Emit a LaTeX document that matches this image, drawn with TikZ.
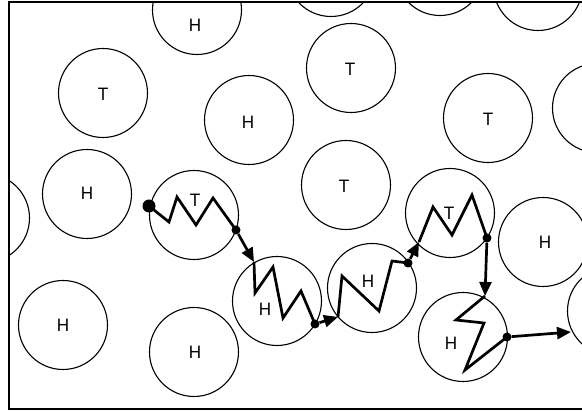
\documentclass[tikz,border=0pt]{standalone}
\usepackage{fontspec}
\setmainfont{TeX Gyre Heros}
\usetikzlibrary{arrows.meta}

\tikzset{
  cell/.style={circle,draw,line width=1.1pt,minimum size=89pt,inner sep=0pt},
  tag/.style={font=\fontsize{17}{17}\selectfont,inner sep=0pt},
  chain/.style={line width=2.7pt,line join=miter,miter limit=20},
  hop/.style={chain,-{Triangle[length=14pt,width=12pt]}},
  joint/.style={circle,fill,inner sep=0pt,minimum size=9pt},
}

\begin{document}
\begin{tikzpicture}[x=1pt,y=-1pt]
  \useasboundingbox (0,0) rectangle (582,411);
  \begin{scope}
    \clip (9,2) rectangle (582,409);
    \node[cell] (htop) at (197,10) {};
    \node[cell] (ctopa) at (331,-28) {};
    \node[cell] (ctopb) at (440,-29) {};
    \node[cell] (ctopc) at (538,-14) {};
    \node[cell] (tleft) at (103,93) {};
    \node[cell] (hmid) at (249,120) {};
    \node[cell] (ttop) at (351,68) {};
    \node[cell] (tright) at (488,118) {};
    \node[cell] (cright) at (597,108) {};
    \node[cell] (cleft) at (-15,218) {};
    \node[cell] (hleft) at (87,194) {};
    \node[cell] (tcen) at (346,185) {};
    \node[cell] (hside) at (543,242) {};
    \node[cell] (clow) at (612,311) {};
    \node[cell] (hlowa) at (63,325) {};
    \node[cell] (hlowb) at (194,352) {};
    % the cells the walk passes through
    \node[cell] (wa) at (194,215) {};
    \node[cell] (wb) at (277,301) {};
    \node[cell] (wc) at (372,288) {};
    \node[cell] (wd) at (450,213) {};
    \node[cell] (we) at (463,337) {};
  \end{scope}
  \draw[line width=1.4pt] (582,2) -- (9,2) -- (9,409) -- (582,409);

  \node[tag] (lhtop) at (195,25) {H};
  \node[tag] (ltleft) at (103,94) {T};
  \node[tag] (lhmid) at (248,122) {H};
  \node[tag] (lttop) at (350,69) {T};
  \node[tag] (ltright) at (488,119) {T};
  \node[tag] (lhleft) at (87,193) {H};
  \node[tag] (ltcen) at (344,186) {T};
  \node[tag] (lhside) at (545,242) {H};
  \node[tag] (lhlowa) at (63,325) {H};
  \node[tag] (lhlowb) at (195,352) {H};
  \node[tag] (lwa) at (195,200) {T};
  \node[tag] (lwb) at (265,309) {H};
  \node[tag] (lwc) at (368,281) {H};
  \node[tag] (lwd) at (449,213) {T};
  \node[tag] (lwe) at (451,343) {H};

  \node[joint,minimum size=13pt] (s0) at (149,206) {};
  \node[joint] (d1) at (236,230) {};
  \node[joint] (d2) at (315,324) {};
  \node[joint] (d3) at (408,263) {};
  \node[joint] (d4) at (487,238) {};
  \node[joint] (d5) at (507,337) {};
  \coordinate (a1) at (254,262);
  \coordinate (a2) at (338,317);
  \coordinate (a3) at (419,242);
  \coordinate (a4) at (485,296);
  \coordinate (a5) at (571,332);

  \draw[chain] (s0.center) -- (169,222) -- (177,197) -- (196,225) -- (213,198) -- (d1.center);
  \draw[hop] (d1) -- (a1);
  \draw[chain] (a1) -- (255,293) -- (273,267) -- (283,318) -- (301,291) -- (d2.center);
  \draw[hop] (d2) -- (a2);
  \draw[chain] (a2) -- (342,276) -- (379,311) -- (392,261) -- (d3.center);
  \draw[hop] (d3) -- (a3);
  \draw[chain] (a3) -- (433,207) -- (452,235) -- (472,195) -- (d4.center);
  \draw[hop] (d4) -- (a4);
  \draw[chain] (a4) -- (456,320) -- (484,323) -- (465,370) -- (d5.center);
  \draw[hop] (d5) -- (a5);
\end{tikzpicture}
\end{document}
